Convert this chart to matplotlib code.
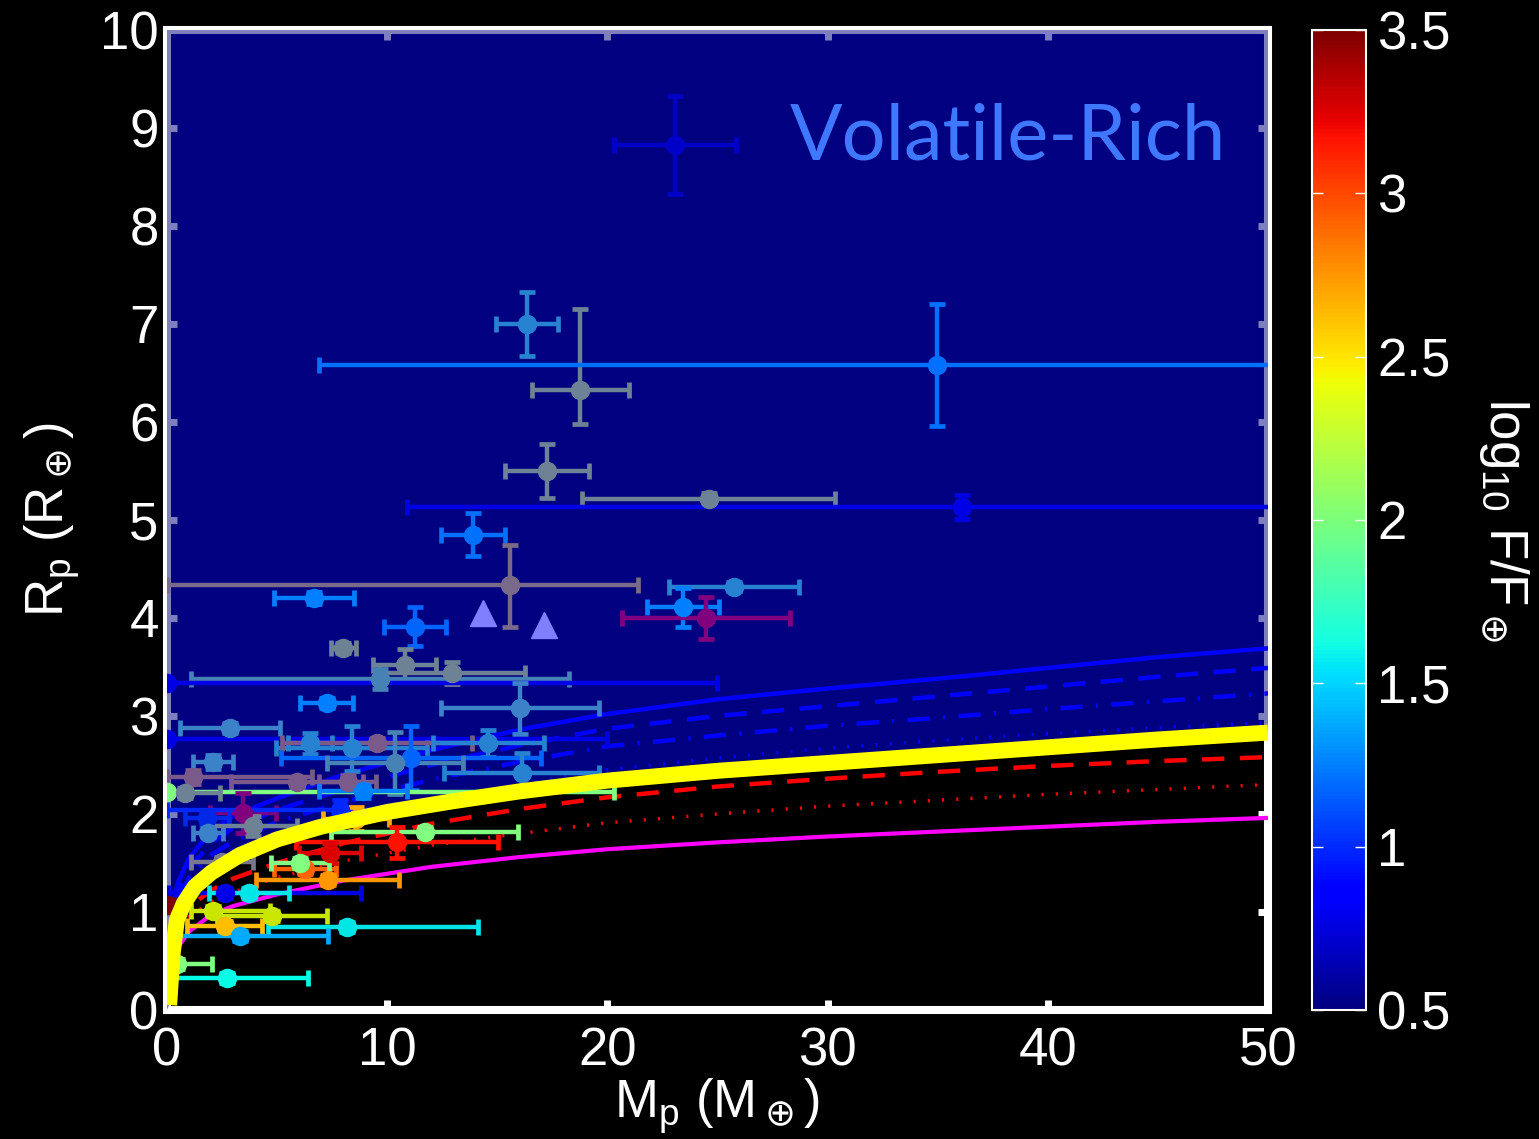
import matplotlib
matplotlib.use("Agg")
from matplotlib import pyplot as plt
from matplotlib.colors import Normalize
from matplotlib.cm import ScalarMappable

plt.rcParams["font.family"] = ["Liberation Sans", "DejaVu Sans"]
plt.rcParams["mathtext.fontset"] = "dejavusans"

# ---- model curves ----
yellow_mass = [0.1, 0.15, 0.26, 0.45, 0.77, 1.27, 2, 3.3, 5, 7, 10, 13, 16, 20, 25, 30, 35, 40, 45, 50]
yellow_radius = [0.05, 0.23, 0.58, 0.92, 1.09, 1.26, 1.4, 1.58, 1.74, 1.87, 2.02, 2.13, 2.23, 2.34,
                 2.44, 2.52, 2.6, 2.68, 2.76, 2.83]

model_mass = [0.15, 0.3, 0.5, 1, 2, 3, 5, 8, 12, 16, 20, 25, 30, 35, 40, 45, 50]
blue_solid = [0.8, 1.1, 1.3, 1.55, 1.82, 1.98, 2.16, 2.4, 2.65, 2.86, 3.02, 3.17, 3.28, 3.38, 3.49, 3.6, 3.69]
blue_dashed = [0.7, 1.0, 1.2, 1.45, 1.7, 1.86, 2.04, 2.25, 2.5, 2.7, 2.87, 3.0, 3.1, 3.2, 3.3, 3.4, 3.49]
blue_dashdot = [0.65, 0.9, 1.1, 1.35, 1.58, 1.72, 1.92, 2.12, 2.35, 2.53, 2.69, 2.8, 2.9, 2.98, 3.07, 3.15, 3.23]
blue_dotted = [0.55, 0.8, 1.0, 1.25, 1.48, 1.63, 1.82, 1.99, 2.15, 2.3, 2.45, 2.57, 2.67, 2.75, 2.82, 2.88, 2.93]
red_dashed = [0.45, 0.7, 0.88, 1.05, 1.22, 1.34, 1.5, 1.7, 1.9, 2.05, 2.17, 2.28, 2.36, 2.43, 2.49, 2.54, 2.58]
red_dotted = [0.4, 0.62, 0.78, 0.95, 1.1, 1.2, 1.35, 1.52, 1.68, 1.8, 1.91, 2.0, 2.08, 2.14, 2.2, 2.25, 2.3]
magenta = [0.3, 0.5, 0.64, 0.8, 0.97, 1.06, 1.18, 1.32, 1.46, 1.56, 1.64, 1.71, 1.77, 1.82, 1.87, 1.92, 1.96]

# ---- planets ----
planet_mass = [23.07, 16.35, 18.76, 34.97, 17.26, 24.6, 36.1, 13.9, 15.58, 6.68,
               11.26, 8.0, 25.75, 23.43, 24.48, 10.8, 12.95, 9.67, 0.0, 7.25,
               16.03, 2.86, 0.0, 8.4, 6.5, 9.53, 14.6, 11.1, 10.35, 2.1,
               16.1, 1.18, 5.9, 8.2, 0.0, 0.82, 8.9, 3.45, 7.86, 1.8,
               1.86, 3.9, 8.6, 11.7, 10.45, 2.5, 6.27, 7.4, 6.04, 7.3,
               2.63, 3.72, 0.0, 2.1, 4.77, 2.63, 8.17, 3.3, 0.45, 2.72]
mass_err_lo = [2.75, 1.4, 2.2, 28.07, 1.9, 5.75, 25.2, 1.45, 15.58, 1.8,
               1.4, 0.57, 2.93, 1.63, 3.8, 1.43, 3.3, 8.6, 0.0, 1.2,
               3.57, 2.27, 0.0, 3.43, 1.0, 4.3, 2.5, 5.9, 3.1, 0.9,
               3.5, 1.18, 3.0, 1.3, 0.0, 0.82, 2.0, 1.5, 7.86, 1.0,
               0.7, 2.0, 1.5, 4.25, 4.6, 1.4, 1.4, 1.4, 1.3, 3.25,
               2.6, 1.8, 0.0, 1.0, 2.5, 1.7, 3.6, 2.85, 0.45, 2.6]
mass_err_hi = [2.75, 1.4, 2.2, 28.07, 1.9, 5.75, 25.2, 1.45, 5.8, 1.8,
               1.4, 0.57, 2.93, 1.63, 3.8, 1.43, 3.3, 8.6, 25.0, 1.2,
               3.57, 2.27, 20.0, 3.43, 1.0, 4.3, 2.5, 5.9, 3.1, 0.9,
               3.5, 5.4, 3.0, 1.3, 20.3, 1.6, 2.0, 1.5, 2.5, 1.0,
               0.7, 2.0, 1.5, 4.25, 4.6, 1.4, 1.4, 1.4, 1.3, 3.25,
               6.2, 1.8, 0.3, 2.6, 2.5, 1.7, 5.95, 4.0, 1.6, 3.7]
planet_radius = [8.83, 7.0, 6.33, 6.58, 5.5, 5.21, 5.13, 4.85, 4.34, 4.2,
                 3.91, 3.69, 4.32, 4.11, 4.0, 3.52, 3.44, 3.38, 3.34, 3.13,
                 3.08, 2.88, 2.76, 2.67, 2.72, 2.72, 2.72, 2.57, 2.52, 2.53,
                 2.42, 2.38, 2.33, 2.33, 2.22, 2.21, 2.23, 2.01, 2.04, 1.96,
                 1.81, 1.88, 1.95, 1.82, 1.71, 1.51, 1.44, 1.6, 1.5, 1.33,
                 1.19, 1.19, 1.07, 1.01, 0.96, 0.86, 0.85, 0.755, 0.47, 0.33]
radius_err_lo = [0.5, 0.33, 0.35, 0.62, 0.28, 0.07, 0.12, 0.22, 0.43, 0.06,
                 0.2, 0.05, 0.05, 0.2, 0.21, 0.16, 0.11, 0.1, 0.0, 0.05,
                 0.26, 0.05, 0.0, 0.23, 0.11, 0.05, 0.14, 0.33, 0.32, 0.07,
                 0.2, 0.07, 0.05, 0.07, 0.0, 0.05, 0.07, 0.2, 0.1, 0.07,
                 0.05, 0.1, 0.12, 0.05, 0.16, 0.05, 0.05, 0.1, 0.05, 0.05,
                 0.05, 0.05, 0.0, 0.05, 0.05, 0.05, 0.05, 0.05, 0.05, 0.05]
radius_err_hi = [0.5, 0.33, 0.82, 0.62, 0.28, 0.07, 0.12, 0.22, 0.4, 0.06,
                 0.2, 0.05, 0.05, 0.2, 0.21, 0.16, 0.11, 0.1, 0.0, 0.05,
                 0.26, 0.05, 0.0, 0.23, 0.11, 0.05, 0.14, 0.33, 0.32, 0.07,
                 0.2, 0.07, 0.05, 0.07, 0.0, 0.05, 0.07, 0.2, 0.1, 0.07,
                 0.05, 0.1, 0.12, 0.05, 0.16, 0.05, 0.05, 0.1, 0.05, 0.05,
                 0.05, 0.05, 0.0, 0.05, 0.05, 0.05, 0.05, 0.05, 0.05, 0.05]

# marker colours as they appear in the figure (flux colour, some faded)
planet_color = ["#0000c8", "#2882d2", "#6e8296", "#0070ff", "#6e8296", "#6e8296", "#0000e6", "#0070ff", "#7a6a8a", "#0080ff",
                "#0064ff", "#6e8296", "#2882d2", "#0080ff", "#800080", "#6e8296", "#6e8296", "#4682b4", "#0000e6", "#0080ff",
                "#3c82c8", "#3c82c8", "#0000e6", "#2882d2", "#2882d2", "#7a5a8a", "#2882d2", "#0064ff", "#4682b4", "#3c82c8",
                "#2882d2", "#7a5a8a", "#7a5a8a", "#7a5a8a", "#80ff80", "#6e8296", "#0080ff", "#800080", "#0028ff", "#0028e6",
                "#3c82c8", "#6e8296", "#ffaa00", "#80ff80", "#ff1000", "#78788c", "#ff6400", "#dc0000", "#80ff80", "#ff9600",
                "#0000e6", "#00e6e6", "#800000", "#c8e600", "#c8e600", "#ffbe00", "#00e6e6", "#00aaff", "#80ff80", "#00ffe6"]

tri_mass = [14.35, 17.12]
tri_radius = [4.05, 3.93]

cbar_ticks = [0.5, 1, 1.5, 2, 2.5, 3, 3.5]
cbar_labels = ["0.5", "1", "1.5", "2", "2.5", "3", "3.5"]

fig = plt.figure(figsize=(15.39, 11.39), dpi=100, facecolor="black")
ax = fig.add_axes([0.1085, 0.1133, 0.7154, 0.8604])
ax.set_facecolor("black")
ax.set_xlim(0, 50)
ax.set_ylim(0, 10)

# volatile-rich region above the yellow curve
region_x = [0] + yellow_mass + [50, 0]
region_y = [0] + yellow_radius + [10, 10]
ax.fill(region_x, region_y, color="#000080", lw=0, zorder=0.5)
# translucent layer that tints the frame and ticks inside the region
ax.fill(region_x, region_y, color="#000080", alpha=0.5, lw=0, zorder=2.6)

for s in ax.spines.values():
    s.set_color("white")
    s.set_linewidth(5.8)

ax.set_xticks(range(0, 51, 10))
ax.set_yticks(range(0, 11))
ax.tick_params(direction="in", length=7, width=5, color="white", top=True, right=True,
               labelsize=38, labelcolor="white")
ax.tick_params(axis="x", pad=12)
ax.tick_params(axis="y", pad=6)

# model curves
ax.plot(model_mass, blue_solid, color="#0000ff", lw=3.2, zorder=3)
ax.plot(model_mass, blue_dashed, color="#0000ff", lw=3.2, dashes=(5, 3.5), zorder=3)
ax.plot(model_mass, blue_dashdot, color="#0000ff", lw=3.2, dashes=(5, 3, 0.5, 3), zorder=3)
ax.plot(model_mass, blue_dotted, color="#0000ff", lw=2.5, dashes=(0.6, 3.5), zorder=3)
ax.plot(model_mass, red_dashed, color="#ff0000", lw=3.2, dashes=(5, 3.5), zorder=3)
ax.plot(model_mass, red_dotted, color="#ff0000", lw=2.5, dashes=(0.6, 3.5), zorder=3)
ax.plot(model_mass, magenta, color="#ff00ff", lw=3, zorder=3)

for i in range(len(planet_mass)):
    ax.errorbar(planet_mass[i], planet_radius[i],
                xerr=[[mass_err_lo[i]], [mass_err_hi[i]]],
                yerr=[[radius_err_lo[i]], [radius_err_hi[i]]],
                fmt="o", color=planet_color[i], ms=13, elinewidth=3.2,
                capsize=5.5, capthick=3.4, zorder=4)

ax.plot(tri_mass, tri_radius, "^", color="#8080ff", ms=19, zorder=4, lw=0)

ax.plot(yellow_mass, yellow_radius, color="#ffff00", lw=11.5, solid_capstyle="butt", zorder=5)

ax.text(38.2, 8.9, "Volatile-Rich", ha="center", va="center", fontsize=56,
        color="#3f78ff", family=["Lato", "DejaVu Sans"], zorder=6)

ax.set_xlabel(r"M$_\mathregular{p}$ (M$_\oplus$)", fontsize=38, color="white", labelpad=0)
ax.set_ylabel(r"R$_\mathregular{p}$ (R$_\oplus$)", fontsize=38, color="white", labelpad=12)

# colour bar
cax = fig.add_axes([0.8525, 0.1133, 0.0351, 0.8604])
sm = ScalarMappable(norm=Normalize(0.5, 3.5), cmap="jet")
cb = fig.colorbar(sm, cax=cax, ticks=cbar_ticks)
cb.ax.set_yticklabels(cbar_labels)
cb.outline.set_edgecolor("white")
cb.outline.set_linewidth(1.5)
cax.yaxis.set_ticks_position("both")
cax.tick_params(direction="in", length=8, width=1, color="white", labelsize=38,
                labelcolor="white", labelleft=False, labelright=True, pad=8)
cb.set_label(r"log$_\mathregular{10}$ F/F$_\oplus$", fontsize=38, color="white",
             rotation=270, labelpad=58)

fig.savefig("out.png", dpi=100, facecolor="black")
